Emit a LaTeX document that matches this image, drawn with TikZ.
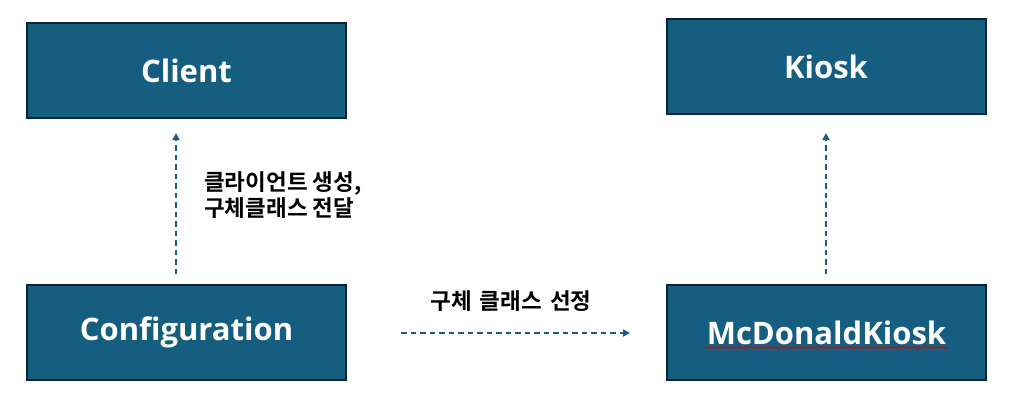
\documentclass[tikz,border=0pt]{standalone}
\usepackage{fontspec}
\setmainfont{Open Sans}
\newfontfamily\kor{Noto Sans CJK KR}[BoldFont={* Bold}]
\usetikzlibrary{arrows.meta,decorations.pathmorphing}
\definecolor{boxfill}{HTML}{165E80}
\definecolor{boxline}{HTML}{082535}
\definecolor{arrowc}{HTML}{1A5D7E}
\tikzset{
  classbox/.style={draw=boxline, line width=2pt, fill=boxfill, text=white,
    minimum width=319pt, minimum height=95pt, inner sep=0pt,
    font=\fontsize{31}{36}\selectfont\bfseries},
  dep/.style={draw=arrowc, line width=2pt, dash pattern=on 5.5pt off 4pt,
    -{Triangle[length=7pt,width=7pt]}},
  lbl/.style={font=\kor\bfseries\fontsize{22.5}{26}\selectfont, text=black, inner sep=0pt}
}
\begin{document}
\begin{tikzpicture}[x=1pt,y=-1pt]
\useasboundingbox (0,0) rectangle (1010,405);
\node[classbox] (client) at (186.5,70.5) {Client};
\node[classbox] (kiosk) at (826,66.5) {Kiosk};
\node[classbox] (config) at (186.5,332.5) {Configuration};
\node[classbox] (mcd) at (826.5,332.5) {McDonaldKiosk};
\coordinate (c1) at (176,274);
\coordinate (c2) at (176,133);
\coordinate (k1) at (826,274);
\coordinate (k2) at (826,133);
\coordinate (h1) at (401,333);
\coordinate (h2) at (630,333);
\draw[dep] (c1) -- (c2);
\draw[dep] (k1) -- (k2);
\draw[dep] (h1) -- (h2);
\node[lbl, align=left, anchor=west] (l1) at (204,195) {클라이언트 생성,\\구체클래스 전달};
\node[lbl] (l2) at (511,301) {구체\hspace{3pt} 클래스\hspace{3pt} 선정};
\coordinate (u1) at (705,347.5);
\coordinate (u2) at (949,347.5);
\draw[red!85!black, line width=0.8pt, decorate, decoration={snake, amplitude=0.8pt, segment length=3pt}] (u1) -- (u2);
\end{tikzpicture}
\end{document}
